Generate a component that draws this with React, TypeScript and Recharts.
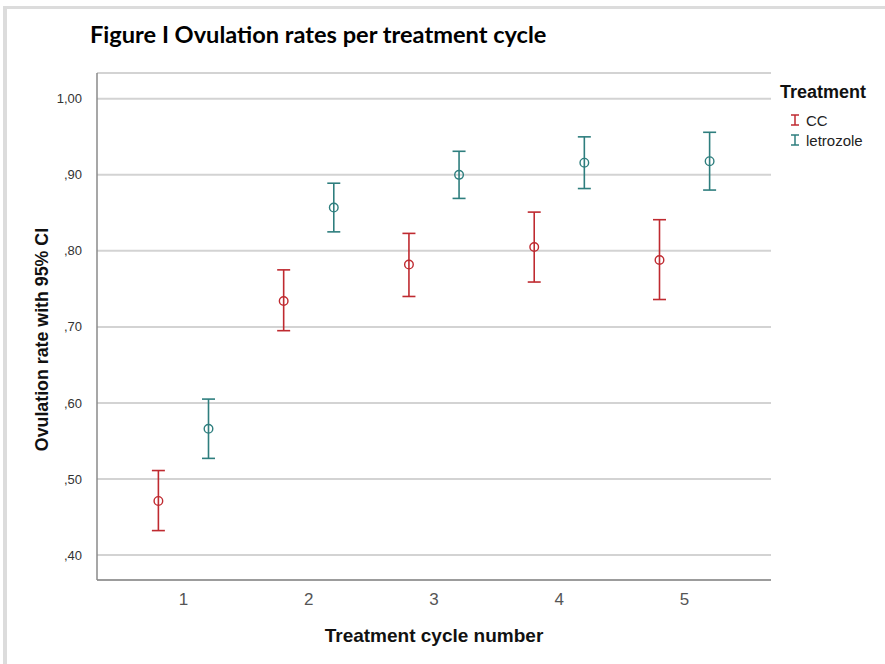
import { ScatterChart, Scatter, XAxis, YAxis, CartesianGrid, ErrorBar, Label } from 'recharts';

const cycles = [1, 2, 3, 4, 5];
const ccMean = [0.471, 0.734, 0.782, 0.805, 0.788];
const ccLower = [0.432, 0.695, 0.740, 0.759, 0.736];
const ccUpper = [0.511, 0.775, 0.823, 0.851, 0.841];
const letMean = [0.566, 0.857, 0.900, 0.916, 0.918];
const letLower = [0.527, 0.825, 0.869, 0.882, 0.880];
const letUpper = [0.605, 0.889, 0.931, 0.950, 0.956];
const yTicks = [0.4, 0.5, 0.6, 0.7, 0.8, 0.9, 1.0];

const CC_COLOR = '#bf2a30';
const LET_COLOR = '#2e7e7e';
const OFFSET = 0.2;

const build = (mean: number[], lo: number[], hi: number[], shift: number) =>
  cycles.map((c, i) => ({ x: c + shift, y: mean[i], err: [mean[i] - lo[i], hi[i] - mean[i]] }));

const ccData = build(ccMean, ccLower, ccUpper, -OFFSET);
const letData = build(letMean, letLower, letUpper, OFFSET);

const fmt = (v: number) => v.toFixed(2).replace('.', ',').replace(/^0/, '');

const ring = (color: string) => (p: any) => (
  <circle cx={p.cx} cy={p.cy} r={4.3} fill="none" stroke={color} strokeWidth={1.4} />
);

const legendItems = [
  { name: 'CC', color: CC_COLOR },
  { name: 'letrozole', color: LET_COLOR },
];

function IBeam({ color }: { color: string }) {
  return (
    <svg width={10} height={12} style={{ marginRight: 6 }}>
      <line x1={1} y1={1} x2={9} y2={1} stroke={color} strokeWidth={1.5} />
      <line x1={5} y1={1} x2={5} y2={11} stroke={color} strokeWidth={1.5} />
      <line x1={1} y1={11} x2={9} y2={11} stroke={color} strokeWidth={1.5} />
    </svg>
  );
}

export default function App() {
  const font = '"Liberation Sans", Arial, sans-serif';
  return (
    <div style={{ position: 'absolute', left: 0, top: 0, width: 885, height: 664, background: '#fff', fontFamily: font }}>
      <div style={{ position: 'absolute', left: 3, top: 6, width: 882, height: 3, background: '#dcdcdc' }} />
      <div style={{ position: 'absolute', left: 3, top: 6, width: 4, height: 658, background: '#dcdcdc' }} />
      <div style={{ position: 'absolute', left: 90, top: 20, fontFamily: 'Lato, sans-serif', fontWeight: 700, fontSize: 23.6, color: '#000' }}>
        Figure I Ovulation rates per treatment cycle
      </div>
      <ScatterChart width={885} height={664} margin={{ top: 73, right: 114, bottom: 4, left: 17 }}>
        <CartesianGrid horizontal vertical={false} stroke="#d3d3d3" strokeWidth={2} />
        <XAxis
          type="number"
          dataKey="x"
          domain={[0.31, 5.69]}
          ticks={cycles}
          allowDataOverflow
          height={80}
          tickLine={false}
          axisLine={{ stroke: '#8a8a8a', strokeWidth: 1.5 }}
          tick={{ fontSize: 17, fill: '#555', fontFamily: font }}
          tickMargin={7}
        >
          <Label value="Treatment cycle number" position="insideBottom" offset={18} style={{ fontSize: 19, fontWeight: 700, fill: '#111', fontFamily: font }} />
        </XAxis>
        <YAxis
          type="number"
          dataKey="y"
          domain={[0.367, 1.034]}
          ticks={yTicks}
          allowDataOverflow
          width={80}
          tickLine={false}
          axisLine={{ stroke: '#8a8a8a', strokeWidth: 1.5 }}
          tick={{ fontSize: 13, fill: '#333', fontFamily: font }}
          tickFormatter={fmt}
          tickMargin={9}
        >
          <Label
            content={(p: any) => (
              <text
                transform={`translate(${p.viewBox.x + 31},${p.viewBox.y + p.viewBox.height / 2 + 13}) rotate(-90)`}
                textAnchor="middle"
                style={{ fontSize: 17.8, fontWeight: 700, fill: '#111', fontFamily: font }}
              >
                Ovulation rate with 95% CI
              </text>
            )}
          />
        </YAxis>
        <Scatter name="CC" data={ccData} shape={ring(CC_COLOR)} isAnimationActive={false}>
          <ErrorBar dataKey="err" direction="y" width={6.5} stroke={CC_COLOR} strokeWidth={1.6} isAnimationActive={false} />
        </Scatter>
        <Scatter name="letrozole" data={letData} shape={ring(LET_COLOR)} isAnimationActive={false}>
          <ErrorBar dataKey="err" direction="y" width={6.5} stroke={LET_COLOR} strokeWidth={1.6} isAnimationActive={false} />
        </Scatter>
      </ScatterChart>
      <div style={{ position: 'absolute', left: 780, top: 82, color: '#222' }}>
        <div style={{ fontSize: 18, fontWeight: 700, color: '#111', marginBottom: 7 }}>Treatment</div>
        {legendItems.map((it) => (
          <div key={it.name} style={{ display: 'flex', alignItems: 'center', fontSize: 15, marginLeft: 10, height: 20 }}>
            <IBeam color={it.color} />
            {it.name}
          </div>
        ))}
      </div>
    </div>
  );
}
